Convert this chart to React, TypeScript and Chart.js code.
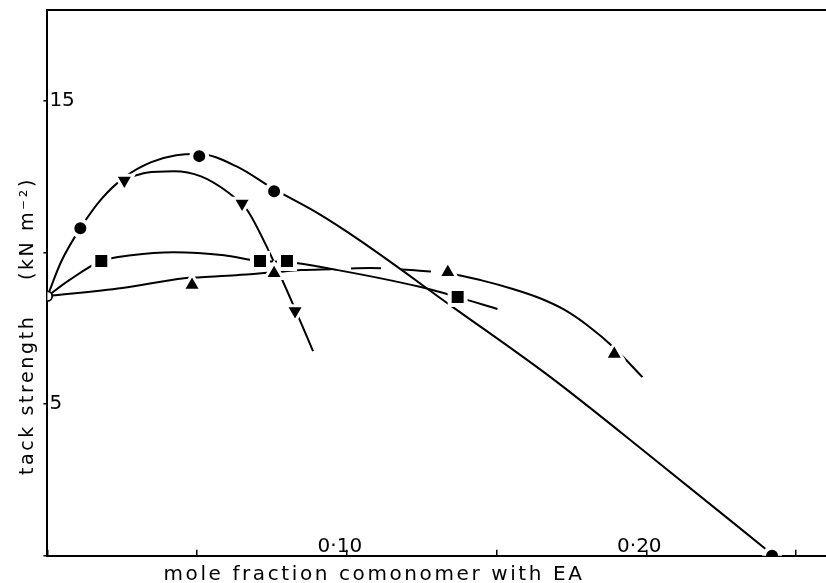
import React, { useEffect, useRef } from 'react';
import { Chart, registerables } from 'chart.js';

Chart.register(...registerables);

const FONT = '"DejaVu Sans", "Liberation Sans", sans-serif';

// Measured points (mole fraction, tack strength kN m^-2)
const originX = [0];
const originY = [8.56];

const circleX = [0.011, 0.0507, 0.0757, 0.242];
const circleY = [10.8, 13.18, 12.02, 0];

const downX = [0.0257, 0.065, 0.0827];
const downY = [12.38, 11.62, 8.07];

const squareX = [0.018, 0.071, 0.08, 0.137];
const squareY = [9.72, 9.72, 9.72, 8.53];

const upX = [0.0483, 0.0757, 0.1337, 0.1893];
const upY = [8.93, 9.32, 9.35, 6.65];

// Hand-drawn fitted curves
const circleCurveX = [0, 0.0047, 0.011, 0.018, 0.0257, 0.0347, 0.043, 0.0507, 0.063, 0.0757, 0.0897, 0.1037, 0.1347, 0.168, 0.2013, 0.242];
const circleCurveY = [8.56, 9.72, 10.8, 11.76, 12.48, 12.98, 13.21, 13.25, 12.85, 12.09, 11.33, 10.44, 8.25, 5.89, 3.29, 0.05];

// the ▼ curve follows the ● curve up to the first ▼ point
const downCurveX = [0.0257, 0.033, 0.0423, 0.0513, 0.0603, 0.065, 0.067, 0.0757, 0.083, 0.0887];
const downCurveY = [12.42, 12.63, 12.68, 12.51, 11.99, 11.59, 11.36, 9.68, 8.07, 6.75];

const squareCurveX = [0, 0.0073, 0.018, 0.028, 0.0423, 0.059, 0.071, 0.08, 0.097, 0.1247, 0.137, 0.1503];
const squareCurveY = [8.56, 9.09, 9.72, 9.91, 10.01, 9.91, 9.72, 9.69, 9.42, 8.86, 8.53, 8.14];

const upCurveX = [0, 0.025, 0.0457, 0.0503, 0.063, 0.0747, 0.0847, 0.0947, 0.108, 0.1213, 0.1337, 0.1447, 0.1557, 0.1643, 0.1723, 0.1803, 0.1893, 0.1987];
const upCurveY = [8.56, 8.83, 9.15, 9.18, 9.25, 9.34, 9.42, 9.45, 9.49, 9.42, 9.32, 9.09, 8.79, 8.5, 8.13, 7.6, 6.85, 5.89];

// Axes
const xTickValues = [0.1, 0.2];
const xTickLabels = ['0·10', '0·20'];
const yTickValues = [5, 15];
const yTickLabels = ['5', '15'];
const X_MIN = 0;
const X_MAX = 0.26;
const Y_MIN = 0;
const Y_MAX = 18;
const X_STEP = 0.05;
const Y_STEP = 5;
const xTitle = 'mole fraction comonomer with EA' + ' '.repeat(14);
const yTitle = 'tack strength    (kN m⁻²)' + ' '.repeat(10);

const zip = (xs: number[], ys: number[]) => xs.map((x, i) => ({ x, y: ys[i] }));

const labelFor = (values: number[], labels: string[]) => (v: number | string) => {
  const n = Number(v);
  const i = values.findIndex((t) => Math.abs(t - n) < 1e-6);
  return i >= 0 ? labels[i] : '';
};

const spacingPlugin = {
  id: 'letterSpacing',
  beforeDraw(chart: any) {
    chart.ctx.letterSpacing = '2.6px';
  },
  beforeDatasetsDraw(chart: any) {
    chart.ctx.letterSpacing = '0px';
  },
  afterDraw(chart: any) {
    chart.ctx.letterSpacing = '0px';
  },
};

export default function App() {
  const ref = useRef<HTMLCanvasElement | null>(null);

  useEffect(() => {
    if (!ref.current) return;
    const curve = (xs: number[], ys: number[], extra: any = {}) => ({
      type: 'scatter',
      data: zip(xs, ys),
      showLine: true,
      borderColor: '#000',
      borderWidth: 2,
      pointRadius: 0,
      cubicInterpolationMode: 'monotone',
      fill: false,
      order: 2,
      xAxisID: 'x',
      yAxisID: 'y',
      ...extra,
    });
    const markers = (xs: number[], ys: number[], style: any) => ({
      type: 'scatter',
      data: zip(xs, ys),
      showLine: false,
      pointBackgroundColor: '#000',
      pointBorderColor: '#fff',
      order: 1,
      xAxisID: 'x',
      yAxisID: 'y',
      ...style,
    });

    const chart = new Chart(ref.current, {
      type: 'scatter',
      data: {
        datasets: [
          curve(circleCurveX, circleCurveY),
          curve(downCurveX, downCurveY),
          curve(squareCurveX, squareCurveY),
          curve(upCurveX, upCurveY, {
            segment: {
              borderDash: (ctx: any) =>
                ctx.p0.parsed.x >= 0.078 && ctx.p1.parsed.x <= 0.134 ? [30, 20] : undefined,
            },
          }),
          markers(circleX, circleY, { pointStyle: 'circle', pointRadius: 8, pointBorderWidth: 4 }),
          markers(downX, downY, { pointStyle: 'triangle', pointRotation: 180, pointRadius: 10.5, pointBorderWidth: 3 }),
          markers(squareX, squareY, { pointStyle: 'rect', pointRadius: 11.3, pointBorderWidth: 4 }),
          markers(upX, upY, { pointStyle: 'triangle', pointRadius: 10.5, pointBorderWidth: 3 }),
          markers(originX, originY, {
            pointStyle: 'circle',
            pointRadius: 4.8,
            pointBackgroundColor: '#fff',
            pointBorderColor: '#000',
            pointBorderWidth: 1.8,
            order: 0,
          }),
        ] as any,
      },
      options: {
        responsive: false,
        animation: false,
        events: [],
        layout: { autoPadding: false, padding: { top: 10, right: 0, bottom: 0, left: 0 } },
        plugins: {
          legend: { display: false },
          tooltip: { enabled: false },
          title: { display: false },
        },
        scales: {
          x: {
            type: 'linear',
            axis: 'x',
            position: 'bottom',
            min: X_MIN,
            max: X_MAX,
            grid: {
              display: true,
              drawOnChartArea: false,
              drawTicks: true,
              tickLength: -6,
              color: '#000',
              lineWidth: 1.5,
            },
            border: { display: true, color: '#000', width: 2 },
            ticks: {
              stepSize: X_STEP,
              includeBounds: false,
              autoSkip: false,
              maxRotation: 0,
              mirror: true,
              padding: 1,
              labelOffset: -7,
              z: 1,
              color: '#000',
              font: { family: FONT, size: 20, lineHeight: 0.8 },
              callback: labelFor(xTickValues, xTickLabels),
            },
            title: {
              display: true,
              text: xTitle,
              color: '#000',
              font: { family: FONT, size: 20, lineHeight: 0.8 },
              padding: { top: 15.3, bottom: 0 },
            },
          },
          x2: {
            type: 'linear',
            axis: 'x',
            position: 'top',
            min: X_MIN,
            max: X_MAX,
            grid: { display: false, drawTicks: false },
            border: { display: true, color: '#000', width: 2 },
            ticks: { display: false },
          },
          y: {
            type: 'linear',
            axis: 'y',
            position: 'left',
            min: Y_MIN,
            max: Y_MAX,
            grid: {
              display: true,
              drawOnChartArea: false,
              drawTicks: true,
              tickLength: 4,
              color: '#000',
              lineWidth: 1.5,
            },
            border: { display: true, color: '#000', width: 2 },
            ticks: {
              stepSize: Y_STEP,
              includeBounds: false,
              autoSkip: false,
              mirror: true,
              padding: 2,
              z: 1,
              color: '#000',
              font: { family: FONT, size: 20, lineHeight: 0.8 },
              callback: labelFor(yTickValues, yTickLabels),
            },
            title: {
              display: true,
              text: yTitle,
              color: '#000',
              font: { family: FONT, size: 19, lineHeight: 1.2 },
              padding: { top: 16.6, bottom: 0 },
            },
          },
        } as any,
      },
      plugins: [spacingPlugin as any],
    } as any);

    return () => chart.destroy();
  }, []);

  return (
    <div style={{ position: 'fixed', left: 0, top: 0, width: 826, height: 583, background: '#fff' }}>
      <canvas ref={ref} width={826} height={583} style={{ display: 'block' }} />
    </div>
  );
}
